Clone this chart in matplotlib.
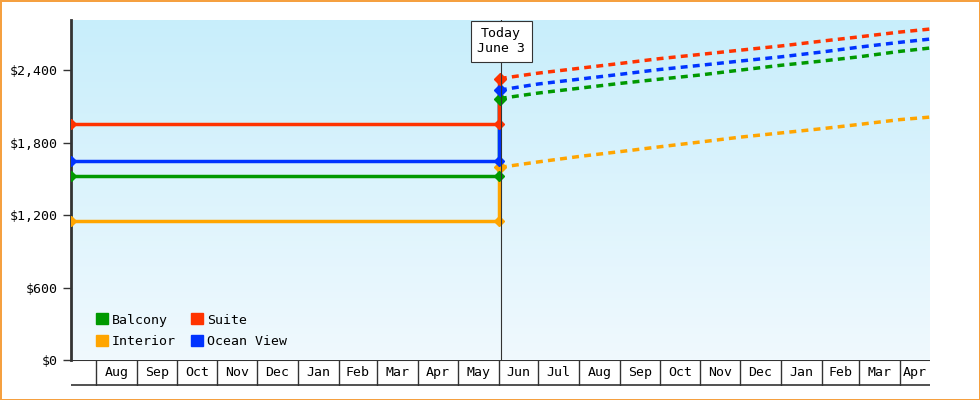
import matplotlib
matplotlib.use("Agg")
import matplotlib.pyplot as plt
import matplotlib.dates as mdates
import numpy as np
from datetime import date

plt.rcParams['font.family'] = ['DejaVu Sans Mono']

series = ["Balcony", "Suite", "Interior", "Ocean View"]
colors = {"Balcony": "#009900", "Suite": "#ff3300", "Interior": "#ffa500", "Ocean View": "#0033ff"}
hist_dates = [date(2023, 7, 13), date(2024, 6, 1)]
hist = {"Balcony": [1520, 1520], "Suite": [1950, 1950], "Interior": [1150, 1150], "Ocean View": [1650, 1650]}
fc_dates = [date(2024, 6, 2), date(2024, 7, 1), date(2024, 8, 1), date(2024, 9, 1), date(2024, 10, 1),
            date(2024, 11, 1), date(2024, 12, 1), date(2025, 1, 1), date(2025, 2, 1), date(2025, 3, 1),
            date(2025, 4, 1), date(2025, 4, 24)]
fc = {
    "Suite":      [2330, 2375, 2415, 2455, 2495, 2530, 2565, 2600, 2640, 2675, 2715, 2740],
    "Ocean View": [2235, 2285, 2325, 2365, 2405, 2440, 2475, 2510, 2550, 2590, 2630, 2657],
    "Balcony":    [2165, 2210, 2250, 2290, 2325, 2360, 2400, 2440, 2475, 2510, 2555, 2583],
    "Interior":   [1595, 1640, 1685, 1725, 1765, 1805, 1845, 1880, 1915, 1950, 1990, 2011],
}
today = date(2024, 6, 3)
yticks = [0, 600, 1200, 1800, 2400]
xstart, xend = date(2023, 7, 13), date(2025, 4, 24)

fig = plt.figure(figsize=(9.8, 4), dpi=100)
fig.patch.set_edgecolor("#f5a040")
fig.patch.set_linewidth(2)
ax = fig.add_axes([71/980, 40/400, 859/980, 340/400])
x0, x1 = mdates.date2num(xstart), mdates.date2num(xend)
ymax = 2815
grad = np.linspace(0, 1, 256).reshape(-1, 1)
from matplotlib.colors import LinearSegmentedColormap
cmap = LinearSegmentedColormap.from_list("g", ["#f0f9fe", "#c8eefb"])
ax.imshow(grad, cmap=cmap, origin="lower", extent=[x0, x1, 0, ymax], aspect="auto", zorder=0)

order = ["Interior", "Balcony", "Ocean View", "Suite"]
for s in order:
    c = colors[s]
    ax.plot(hist_dates, hist[s], color=c, lw=2.5, zorder=3)
    ax.plot(hist_dates, hist[s], 'D', color=c, ms=5, zorder=4)
    ax.plot([hist_dates[-1], hist_dates[-1]], [hist[s][-1], fc[s][0]], color=c, lw=2.5, zorder=3)
    ax.plot(fc_dates, fc[s], color=c, lw=2.5, ls=(0, (2, 1.5)), zorder=3)
    ax.plot([fc_dates[0]], [fc[s][0]], 'D', color=c, ms=6, zorder=4)

ax.axvline(today, color="#333333", lw=0.8, zorder=5)
ax.annotate("Today\nJune 3", xy=(mdates.date2num(today), 2640), xycoords="data",
            ha="center", va="center",
            fontsize=9.5, bbox=dict(boxstyle="square,pad=0.5", fc="white", ec="#333333", lw=0.8),
            zorder=6, annotation_clip=False)

ax.set_xlim(x0, x1)
ax.set_ylim(0, ymax)
ax.set_yticks(yticks)
ax.set_yticklabels([f"${v:,}" for v in yticks], fontsize=9.5)
ax.tick_params(axis="y", length=6, width=1, color="#333333")
ax.set_xticks([])
for sp in ["top", "right", "bottom"]:
    ax.spines[sp].set_visible(False)
ax.spines["left"].set_linewidth(2)
ax.spines["left"].set_color("#333333")

from matplotlib.patches import Patch
handles = [Patch(color=colors[s], label=s) for s in ["Balcony", "Interior", "Suite", "Ocean View"]]
ax.legend(handles=handles, ncol=2, loc="lower left", bbox_to_anchor=(0.015, 0.0), frameon=False,
          fontsize=9.5, handlelength=0.9, handleheight=0.9, handletextpad=0.3, columnspacing=1.2, labelspacing=0.65)

# month strip
ax2 = fig.add_axes([71/980, 14/400, 859/980, 26/400])
ax2.set_xlim(x0, x1)
ax2.set_ylim(-0.04, 1)
ax2.axis("off")
ax2.axhline(1, color="#333333", lw=1.5)
ax2.axhline(0, color="#333333", lw=1.2)
bounds = [date(2023 + (7 + i) // 12, (7 + i) % 12 + 1, 1) for i in range(21)]
for b in bounds:
    ax2.axvline(b, ymin=0.04, color="#333333", lw=1)
edges = [x0] + [mdates.date2num(b) for b in bounds] + [x1]
for i in range(len(edges) - 1):
    lo, hi = edges[i], edges[i + 1]
    if hi - lo < 20:
        continue
    lab = mdates.num2date(lo + 1).strftime("%b")
    ax2.text((lo + hi) / 2, 0.5, lab, ha="center", va="center", fontsize=9.5)

fig.savefig("out.png", dpi=100)
